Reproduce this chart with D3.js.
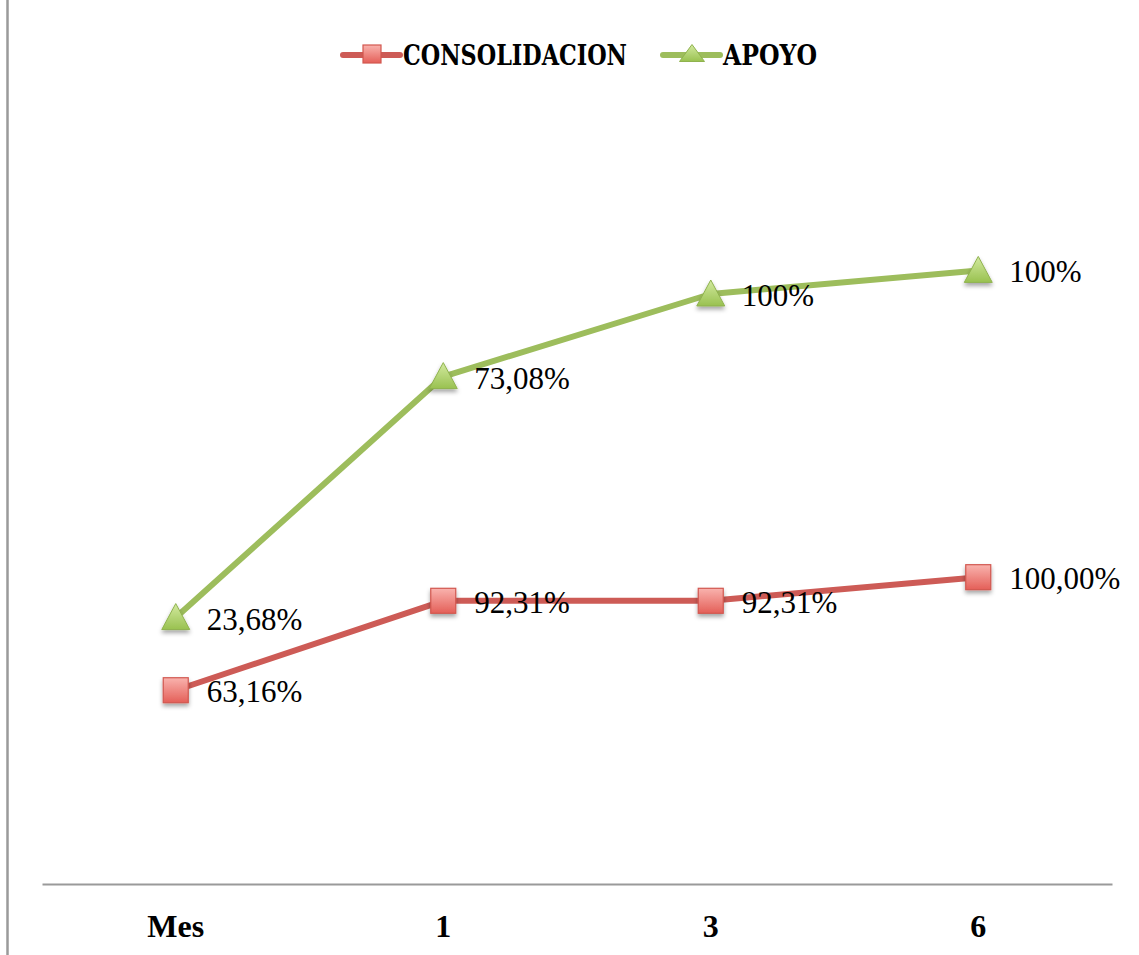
<!DOCTYPE html>
<html>
<head>
<meta charset="utf-8">
<script src="https://cdn.jsdelivr.net/npm/d3@7"></script>
<style>
  html, body { margin: 0; padding: 0; background: #fff; }
  svg { display: block; }
</style>
</head>
<body>
<svg id="chart" width="1139" height="955"></svg>
<script>
// Months on the x axis
const categories = ["Mes", "1", "3", "6"];
// Series values (percent), drawn as stacked lines
const consolidacion = [63.16, 92.31, 92.31, 100.00];
const apoyo = [23.68, 73.08, 100, 100];
// Data label texts
const consolidacionLabels = ["63,16%", "92,31%", "92,31%", "100,00%"];
const apoyoLabels = ["23,68%", "73,08%", "100%", "100%"];
const seriesNames = ["CONSOLIDACION", "APOYO"];

const svg = d3.select("#chart");
const W = 1139, H = 955;
const plot = { left: 42, right: 1112, top: 117, bottom: 884 };

const x = d3.scaleBand().domain(categories).range([plot.left, plot.right]);
const y = d3.scaleLinear().domain([0, 250]).range([plot.bottom, plot.top]);
const cx = c => x(c) + x.bandwidth() / 2;

// Stacked totals
const stackedConsol = consolidacion.slice();
const stackedApoyo = apoyo.map((v, i) => v + consolidacion[i]);

const defs = svg.append("defs");
const redGrad = defs.append("linearGradient").attr("id", "redGrad").attr("x1", 0).attr("y1", 0).attr("x2", 0).attr("y2", 1);
redGrad.append("stop").attr("offset", "0%").attr("stop-color", "#f9b3ae");
redGrad.append("stop").attr("offset", "100%").attr("stop-color", "#e45f58");
const greenGrad = defs.append("linearGradient").attr("id", "greenGrad").attr("x1", 0).attr("y1", 0).attr("x2", 0).attr("y2", 1);
greenGrad.append("stop").attr("offset", "0%").attr("stop-color", "#d3eaa0");
greenGrad.append("stop").attr("offset", "100%").attr("stop-color", "#99c150");
const shadow = defs.append("filter").attr("id", "shadow").attr("x", "-50%").attr("y", "-50%").attr("width", "200%").attr("height", "200%");
shadow.append("feDropShadow").attr("dx", 0).attr("dy", 3).attr("stdDeviation", 2).attr("flood-color", "#000").attr("flood-opacity", 0.35);

// Outer left border
svg.append("line").attr("x1", 7.5).attr("x2", 7.5).attr("y1", 0).attr("y2", H)
  .attr("stroke", "#9a9a9a").attr("stroke-width", 2.5);

// X axis
const xAxis = d3.axisBottom(x).tickSize(0);
const gx = svg.append("g").attr("transform", `translate(0,${plot.bottom})`).call(xAxis);
gx.select(".domain").attr("stroke", "#9a9a9a").attr("stroke-width", 2);
gx.selectAll(".tick text")
  .attr("y", 53)
  .attr("dy", 0)
  .attr("font-family", "'Liberation Serif', serif")
  .attr("font-weight", "bold")
  .attr("font-size", 32)
  .attr("fill", "#000");

const lineGen = d3.line().x((d, i) => cx(categories[i])).y(d => y(d));

const RED_LINE = "#cd5b56";
const GREEN_LINE = "#9dbd5c";

// Lines
svg.append("path").datum(stackedApoyo).attr("d", lineGen)
  .attr("fill", "none").attr("stroke", GREEN_LINE).attr("stroke-width", 6).attr("stroke-linejoin", "round");
svg.append("path").datum(stackedConsol).attr("d", lineGen)
  .attr("fill", "none").attr("stroke", RED_LINE).attr("stroke-width", 6).attr("stroke-linejoin", "round");

function square(g, px, py, s, withShadow) {
  g.append("rect").attr("x", px - s / 2).attr("y", py - s / 2).attr("width", s).attr("height", s)
    .attr("fill", "url(#redGrad)").attr("stroke", "#d2574f").attr("stroke-width", 1.2)
    .attr("filter", withShadow ? "url(#shadow)" : null);
}
function triangle(g, px, py, w, h, withShadow) {
  const top = py - h / 2 - 1;
  g.append("path")
    .attr("d", `M${px},${top} L${px + w / 2},${top + h} L${px - w / 2},${top + h} Z`)
    .attr("fill", "url(#greenGrad)").attr("stroke", "#8fb24e").attr("stroke-width", 1)
    .attr("filter", withShadow ? "url(#shadow)" : null);
}

// Markers
const mk = svg.append("g");
stackedApoyo.forEach((v, i) => triangle(mk, cx(categories[i]), y(v), 28, 26, true));
stackedConsol.forEach((v, i) => square(mk, cx(categories[i]), y(v), 25, true));

// Data labels
function labels(vals, texts) {
  svg.append("g").selectAll("text").data(vals).join("text")
    .attr("x", (d, i) => cx(categories[i]) + 31)
    .attr("y", d => y(d) + 12)
    .attr("font-family", "'Liberation Serif', serif")
    .attr("font-size", 31)
    .attr("fill", "#000")
    .text((d, i) => texts[i]);
}
labels(stackedApoyo, apoyoLabels);
labels(stackedConsol, consolidacionLabels);

// Legend
const legend = svg.append("g");
const legendItems = [
  { name: seriesNames[0], x0: 343, color: RED_LINE, kind: "square", w: 224 },
  { name: seriesNames[1], x0: 663, color: GREEN_LINE, kind: "triangle", w: 94 }
];
const ly = 55;
legendItems.forEach(it => {
  legend.append("line").attr("x1", it.x0).attr("x2", it.x0 + 57).attr("y1", ly).attr("y2", ly)
    .attr("stroke", it.color).attr("stroke-width", 6).attr("stroke-linecap", "round");
  const px = it.x0 + 29;
  if (it.kind === "square") {
    square(legend, px, ly - 1, 18, false);
  } else {
    triangle(legend, px, ly - 1, 25, 17, false);
  }
  legend.append("text").attr("x", it.x0 + 60).attr("y", ly + 10)
    .attr("font-family", "'DejaVu Serif Condensed', 'DejaVu Serif', serif")
    .attr("font-weight", "bold").attr("font-size", 27)
    .attr("textLength", it.w).attr("lengthAdjust", "spacingAndGlyphs")
    .attr("fill", "#000")
    .text(it.name);
});
</script>
</body>
</html>
